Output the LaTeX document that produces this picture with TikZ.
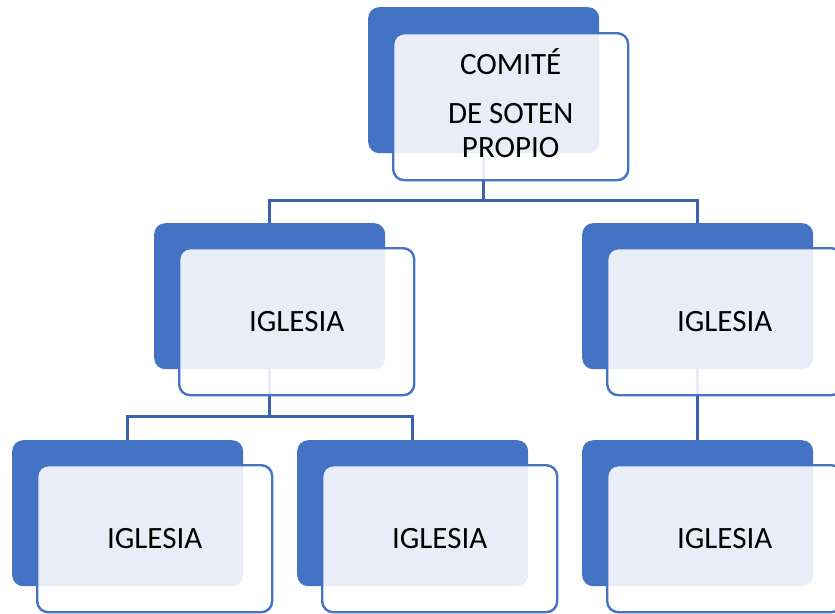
\documentclass[tikz,border=0pt]{standalone}
\usepackage{fontspec}
\setmainfont{Carlito}
\definecolor{boxblue}{HTML}{4472C4}
\definecolor{lineblue}{HTML}{3A62AE}

\begin{document}
\begin{tikzpicture}[x=1pt,y=-1pt]
\useasboundingbox (0,0) rectangle (835,613);
\tikzset{BackStyle/.style ={rectangle, rounded corners=11pt, fill=boxblue, inner sep=0,
  minimum width=231pt, minimum height=146pt, anchor=north west}}
\tikzset{FrontStyle/.style ={rectangle, rounded corners=11pt, draw=boxblue, line width=2.4pt,
  fill=white, fill opacity=.88, text opacity=1, inner sep=0, align=center,
  minimum width=235pt, minimum height=147pt, anchor=north west,
  font=\fontsize{31}{34}\selectfont}}
\tikzset{LinkStyle/.style ={draw=lineblue, line width=2.6pt}}
% back boxes
\node[BackStyle] (comiteB) at (368,7) {};
\node[BackStyle] (iglesiaLB) at (154,223) {};
\node[BackStyle] (iglesiaRB) at (582,223) {};
\node[BackStyle] (iglesiaLLB) at (12,440) {};
\node[BackStyle] (iglesiaLRB) at (297,440) {};
\node[BackStyle] (iglesiaRRB) at (582,440) {};
% links
\draw[LinkStyle] (comiteB.south) -- ++(0,47) -| (iglesiaLB.north);
\draw[LinkStyle] (comiteB.south) -- ++(0,47) -| (iglesiaRB.north);
\draw[LinkStyle] (iglesiaLB.south) -- ++(0,47) -| (iglesiaLLB.north);
\draw[LinkStyle] (iglesiaLB.south) -- ++(0,47) -| (iglesiaLRB.north);
\draw[LinkStyle] (iglesiaRB.south) -- (iglesiaRRB.north);
% front boxes
\node[FrontStyle] (comite) at (392,32) {};
\node[align=center, inner sep=0, font=\fontsize{31}{34}\selectfont] (comiteText)
  at ([yshift=4pt]comite.center) {COMITÉ\\[15pt]DE SOTEN\\PROPIO};
\node[FrontStyle] (iglesiaL) at (178,247) {IGLESIA};
\node[FrontStyle] (iglesiaR) at (606,247) {IGLESIA};
\node[FrontStyle] (iglesiaLL) at (36,464) {IGLESIA};
\node[FrontStyle] (iglesiaLR) at (321,464) {IGLESIA};
\node[FrontStyle] (iglesiaRR) at (606,464) {IGLESIA};
\end{tikzpicture}
\end{document}
